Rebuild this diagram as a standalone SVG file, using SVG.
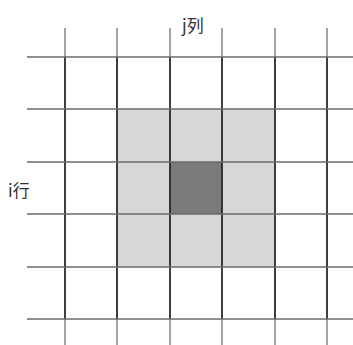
<svg xmlns="http://www.w3.org/2000/svg" width="353" height="345" viewBox="0 0 353 345">
<style>
.h{stroke:#6b6b6b;stroke-width:1.6}
.v{stroke:#2a2a2a;stroke-width:1.8}
.ve{stroke:#9a9a9a;stroke-width:1.8}
.lbl{font-family:"Noto Sans CJK SC",sans-serif;font-size:17px;fill:#333}
</style>
<rect width="353" height="345" fill="#fff"/>
<g id="cells">
<rect x="117" y="109" width="158" height="158" fill="#d6d7d9"/>
<rect x="170" y="162" width="52" height="52" fill="#7a7b7d"/>
</g>
<g id="grid">
<g class="ve">
<line x1="65" y1="28" x2="65" y2="57"/><line x1="117" y1="28" x2="117" y2="57"/><line x1="170" y1="28" x2="170" y2="57"/><line x1="222" y1="28" x2="222" y2="57"/><line x1="275" y1="28" x2="275" y2="57"/><line x1="327" y1="28" x2="327" y2="57"/>
<line x1="65" y1="319" x2="65" y2="345"/><line x1="117" y1="319" x2="117" y2="345"/><line x1="170" y1="319" x2="170" y2="345"/><line x1="222" y1="319" x2="222" y2="345"/><line x1="275" y1="319" x2="275" y2="345"/><line x1="327" y1="319" x2="327" y2="345"/>
</g>
<g class="v">
<line x1="65" y1="57" x2="65" y2="319"/><line x1="117" y1="57" x2="117" y2="319"/><line x1="170" y1="57" x2="170" y2="319"/><line x1="222" y1="57" x2="222" y2="319"/><line x1="275" y1="57" x2="275" y2="319"/><line x1="327" y1="57" x2="327" y2="319"/>
</g>
<g class="h">
<line x1="27" y1="57" x2="353" y2="57"/><line x1="27" y1="109" x2="353" y2="109"/><line x1="27" y1="162" x2="353" y2="162"/><line x1="27" y1="214" x2="353" y2="214"/><line x1="27" y1="267" x2="353" y2="267"/><line x1="27" y1="319" x2="353" y2="319"/>
</g>
</g>
<g id="labels">
<text class="lbl" x="182" y="32">j列</text>
<text class="lbl" x="8" y="197">i行</text>
</g>
</svg>
